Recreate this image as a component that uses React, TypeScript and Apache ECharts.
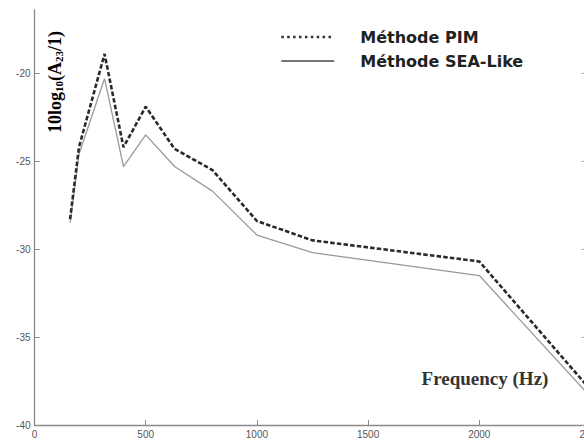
import React, { useEffect, useRef } from "react";
import * as echarts from "echarts";

const freqs = [160, 200, 315, 400, 500, 630, 800, 1000, 1250, 2000, 2500];
const pimValues = [-28.3, -24.2, -18.9, -24.2, -21.9, -24.3, -25.5, -28.4, -29.5, -30.7, -38.0];
const seaValues = [-28.5, -24.6, -20.3, -25.3, -23.5, -25.3, -26.7, -29.2, -30.2, -31.5, -38.4];
const xTicks = [0, 500, 1000, 1500, 2000, 2500];
const yTicks = [-40, -35, -30, -25, -20];
const seriesNames = ["Méthode PIM", "Méthode SEA-Like"];
const xTitle = "Frequency (Hz)";

export default function App() {
  const ref = useRef<HTMLDivElement>(null);
  useEffect(() => {
    if (!ref.current) return;
    const chart = echarts.init(ref.current, null, { renderer: "svg" });
    const axisColor = "#8a8a8a";
    const labelStyle = {
      fontFamily: "Liberation Sans",
      fontSize: 10,
      color: "#555",
    };
    chart.setOption({
      animation: false,
      backgroundColor: "#fff",
      grid: {
        left: 34.5,
        right: 0.5,
        top: 10,
        bottom: 16,
        containLabel: false,
        outerBoundsMode: "none",
      },
      xAxis: {
        type: "value",
        min: 0,
        max: 2500,
        interval: 500,
        splitLine: { show: false },
        axisLine: { lineStyle: { color: axisColor, width: 1.3 } },
        axisTick: { inside: true, length: 5, customValues: xTicks, lineStyle: { color: axisColor } },
        axisLabel: {
          ...labelStyle,
          margin: 4,
          customValues: xTicks,
          formatter: (v: number) => String(v),
        },
      },
      yAxis: [
        {
          type: "value",
          min: -40,
          max: -16.4,
          interval: 5,
          splitLine: { show: false },
          axisLine: { show: true, lineStyle: { color: axisColor, width: 1.3 } },
          axisTick: { show: true, inside: true, length: 5, customValues: yTicks, lineStyle: { color: axisColor } },
          axisLabel: {
            ...labelStyle,
            margin: 4,
            customValues: yTicks,
            formatter: (v: number) => String(v),
          },
        },
        {
          type: "value",
          position: "right",
          min: -40,
          max: -16.4,
          interval: 5,
          splitLine: { show: false },
          axisLine: { show: true, lineStyle: { color: axisColor, width: 1.3 } },
          axisTick: { show: true, inside: true, length: 9, customValues: yTicks, lineStyle: { color: "#aaa" } },
          axisLabel: { show: false },
        },
      ],
      legend: {
        orient: "vertical",
        left: 275,
        top: 24,
        itemWidth: 53,
        itemHeight: 14,
        itemGap: 8,
        selectedMode: false,
        textStyle: {
          fontFamily: "DejaVu Sans",
          fontWeight: "bold",
          fontSize: 16,
          lineHeight: 16,
          color: "#222",
          padding: [0, 0, 0, 21],
        },
        data: [
          {
            name: seriesNames[0],
            itemStyle: { opacity: 0 },
            lineStyle: { type: [2.5, 3.4], width: 2.6, color: "#333" },
          },
          {
            name: seriesNames[1],
            itemStyle: { opacity: 0 },
            lineStyle: { type: "solid", width: 2, color: "#777" },
          },
        ],
      },
      series: [
        {
          name: seriesNames[0],
          type: "line",
          symbol: "none",
          z: 3,
          data: freqs.map((f, i) => [f, pimValues[i]]),
          lineStyle: { color: "#2a2a2a", width: 2.6, type: [4.5, 2.2] },
          itemStyle: { color: "#2a2a2a" },
        },
        {
          name: seriesNames[1],
          type: "line",
          symbol: "none",
          z: 2,
          data: freqs.map((f, i) => [f, seaValues[i]]),
          lineStyle: { color: "#9a9a9a", width: 1.3, type: "solid" },
          itemStyle: { color: "#9a9a9a" },
        },
      ],
      graphic: [
        {
          type: "text",
          x: 55,
          y: 82,
          rotation: Math.PI / 2,
          style: {
            text: "{m|10log}{s|10}{m|(A}{s|23}{m|/1)}",
            align: "center",
            verticalAlign: "middle",
            rich: {
              m: {
                fontFamily: "Liberation Serif",
                fontWeight: "bold",
                fontSize: 18,
                lineHeight: 18,
                verticalAlign: "top",
                color: "#222",
              },
              s: {
                fontFamily: "Liberation Serif",
                fontWeight: "bold",
                fontSize: 11,
                lineHeight: 11,
                verticalAlign: "bottom",
                padding: [8, 0, 0, 0],
                color: "#222",
              },
            },
          },
        },
        {
          type: "text",
          x: 485,
          y: 378,
          style: {
            text: xTitle,
            align: "center",
            verticalAlign: "middle",
            fontFamily: "Liberation Serif",
            fontWeight: "bold",
            fontSize: 19,
            fill: "#333",
          },
        },
      ],
    });
    return () => chart.dispose();
  }, []);
  return (
    <div
      style={{
        position: "absolute",
        left: 0,
        top: 0,
        width: 584,
        height: 441,
        overflow: "hidden",
        background: "#fff",
      }}
    >
      <div ref={ref} style={{ width: 591, height: 441 }} />
    </div>
  );
}
